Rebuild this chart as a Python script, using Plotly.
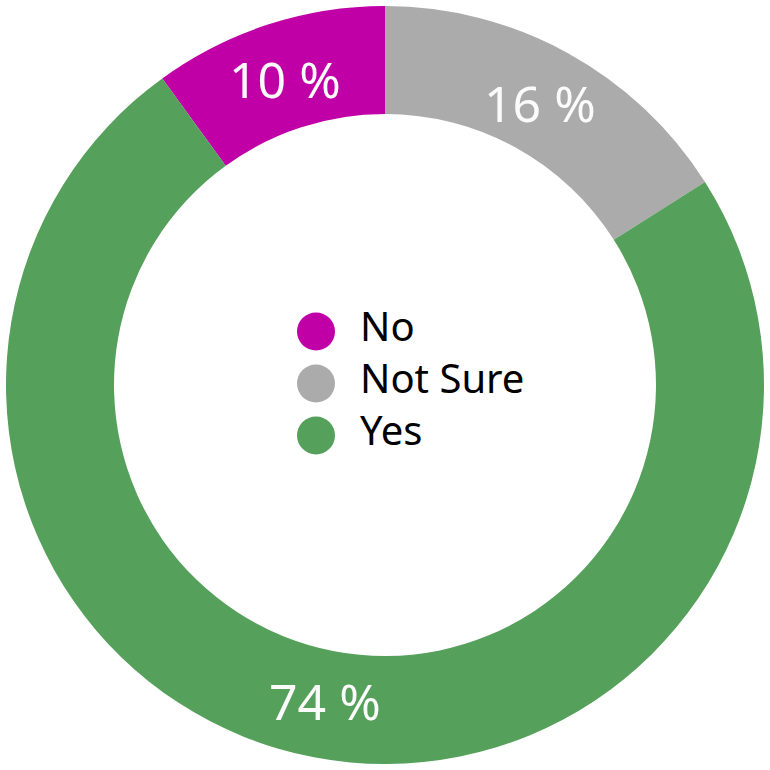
import math
import plotly.graph_objects as go

labels = ['No', 'Not Sure', 'Yes']
values = [10, 16, 74]
colors = ['#C000A6', '#ABABAB', '#55A05A']

START_DEG = -36      # the first slice starts 36 degrees left of 12 o'clock
LABEL_R = 0.85       # percent labels, as a fraction of the outer radius

fig = go.Figure()

# the donut itself, its own legend replaced by the big dots in the hole
fig.add_trace(go.Pie(
    labels=labels,
    values=values,
    hole=0.715,
    sort=False,
    direction='clockwise',
    rotation=START_DEG,
    marker=dict(colors=colors, line=dict(width=0)),
    textinfo='none',
    showlegend=False,
    hoverinfo='label+percent',
))

# percent labels at the middle angle of each slice
total = sum(values)
start = START_DEG
for v in values:
    mid = math.radians(start + 360 * v / total / 2)
    start += 360 * v / total
    fig.add_annotation(
        x=0.5 + 0.5 * LABEL_R * math.sin(mid),
        y=0.5 + 0.5 * LABEL_R * math.cos(mid),
        xref='paper', yref='paper',
        xanchor='center', yanchor='middle',
        text=f'{v} %',
        showarrow=False,
        font=dict(family='Noto Sans', size=50, color='#FBFBFB'),
    )

# legend in the hole: dots + labels on hidden axes
fig.add_trace(go.Scatter(
    x=[0] * len(labels),
    y=labels,
    mode='markers',
    marker=dict(size=38, color=colors),
    showlegend=False,
    hoverinfo='skip',
))
fig.add_trace(go.Scatter(
    x=[44] * len(labels),
    y=labels,
    mode='text',
    text=labels,
    textposition='middle right',
    textfont=dict(family='Noto Sans', size=40, color='black'),
    showlegend=False,
    hoverinfo='skip',
))

fig.update_layout(
    width=770,
    height=770,
    margin=dict(l=6, r=6, t=6, b=6),
    paper_bgcolor='white',
    plot_bgcolor='rgba(0,0,0,0)',
    xaxis=dict(range=[-310, 448], visible=False, fixedrange=True),
    yaxis=dict(type='category', range=[8.32, -6.26], visible=False, fixedrange=True),
)

fig.write_html("out.html", config={'displayModeBar': False},
               post_script="document.body.style.margin='0';")
